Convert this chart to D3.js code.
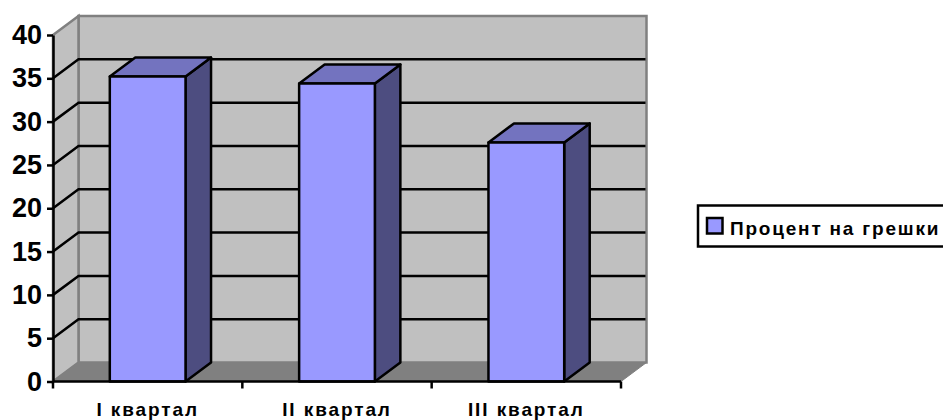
<!DOCTYPE html>
<html>
<head>
<meta charset="utf-8">
<script src="https://cdn.jsdelivr.net/npm/d3@7"></script>
<style>
    body { margin: 0; background: #fff; overflow: hidden; }
    text { font-family: "Liberation Sans", Arial, sans-serif; font-weight: bold; fill: #000; }
</style>
</head>
<body>
<svg id="chart" width="943" height="420"></svg>
<script>
const categories = ['I квартал', 'II квартал', 'III квартал'];
const errorRates = [35.2, 34.4, 27.6];
const yTickValues = [0, 5, 10, 15, 20, 25, 30, 35, 40];
const seriesName = 'Процент на грешки';

const svg = d3.select('#chart');

// front plane of the fake 3d box, back wall is shifted by depth
const dx = 25.5;
const dy = -19;
const x = d3.scaleBand().domain(categories).range([53, 621]).paddingInner(0.6).paddingOuter(0.3);
const y = d3.scaleLinear().domain([0, 40]).range([381.5, 35]);

const x0 = x.range()[0];
const x1 = x.range()[1];
const poly = (pts) => pts.map((p) => p.join(',')).join(' ');

// walls and floor
svg.append('polygon')
    .attr('points', poly([[x0 + dx, y(40) + dy], [x1 + dx, y(40) + dy], [x1 + dx, y(0) + dy], [x0 + dx, y(0) + dy]]))
    .attr('fill', '#c0c0c0').attr('stroke', '#808080').attr('stroke-width', 2.5);
svg.append('polygon')
    .attr('points', poly([[x0, y(40)], [x0 + dx, y(40) + dy], [x0 + dx, y(0) + dy], [x0, y(0)]]))
    .attr('fill', '#c0c0c0').attr('stroke', '#808080').attr('stroke-width', 2.5);
svg.append('polygon')
    .attr('points', poly([[x0, y(0)], [x0 + dx, y(0) + dy], [x1 + dx, y(0) + dy], [x1, y(0)]]))
    .attr('fill', '#808080').attr('stroke', '#808080').attr('stroke-width', 1);

// gridlines run along the left wall and then across the back
svg.append('g').selectAll('polyline')
    .data(yTickValues.filter((d) => d > 0 && d < 40))
    .join('polyline')
    .attr('points', (d) => poly([[x0, y(d)], [x0 + dx, y(d) + dy], [x1 + dx - 1, y(d) + dy]]))
    .attr('fill', 'none').attr('stroke', '#000').attr('stroke-width', 2.5);

// bars
const bars = svg.append('g').selectAll('g')
    .data(categories.map((c, i) => ({ c, v: errorRates[i] })))
    .join('g')
    .attr('stroke', '#000').attr('stroke-width', 2.5).attr('stroke-linejoin', 'round');
bars.append('polygon')
    .attr('points', (d) => {
        const l = x(d.c) + x.bandwidth();
        return poly([[l, y(d.v)], [l + dx, y(d.v) + dy], [l + dx, y(0) + dy], [l, y(0)]]);
    })
    .attr('fill', '#4d4d80');
bars.append('polygon')
    .attr('points', (d) => {
        const l = x(d.c);
        const r = l + x.bandwidth();
        return poly([[l, y(d.v)], [l + dx, y(d.v) + dy], [r + dx, y(d.v) + dy], [r, y(d.v)]]);
    })
    .attr('fill', '#7373bf');
bars.append('rect')
    .attr('x', (d) => x(d.c))
    .attr('y', (d) => y(d.v))
    .attr('width', x.bandwidth())
    .attr('height', (d) => y(0) - y(d.v))
    .attr('fill', '#9999ff');

// y axis
const yAxis = svg.append('g')
    .attr('transform', `translate(${x0},0)`)
    .call(d3.axisLeft(y).tickValues(yTickValues).tickSize(6).tickPadding(5).tickSizeOuter(0));
yAxis.selectAll('line').attr('stroke', '#000').attr('stroke-width', 2.5);
yAxis.select('.domain').attr('stroke', '#000').attr('stroke-width', 2.5);
yAxis.selectAll('text').attr('font-size', 27).attr('font-family', null);

// x axis, labels sit between the ticks
const xAxis = svg.append('g')
    .attr('transform', `translate(0,${y(0)})`)
    .call(d3.axisBottom(x).tickSize(0).tickPadding(21));
xAxis.select('.domain').attr('d', `M${x0},0H${x1}`).attr('stroke', '#000').attr('stroke-width', 2.5);
xAxis.selectAll('text').attr('font-size', 19).attr('letter-spacing', 1.9).attr('font-family', null);
const step = (x1 - x0) / categories.length;
xAxis.selectAll('.boundary')
    .data(d3.range(categories.length + 1))
    .join('line')
    .attr('class', 'boundary')
    .attr('x1', (i) => x0 + i * step).attr('x2', (i) => x0 + i * step)
    .attr('y1', 0).attr('y2', 7)
    .attr('stroke', '#000').attr('stroke-width', 2.5);

// legend runs off the right edge of the picture
const legend = svg.append('g');
legend.append('rect')
    .attr('x', 698).attr('y', 205.5).attr('width', 260).attr('height', 41)
    .attr('fill', '#fff').attr('stroke', '#000').attr('stroke-width', 2.5);
legend.append('rect')
    .attr('x', 707).attr('y', 218).attr('width', 15.5).attr('height', 15.5)
    .attr('fill', '#9999ff').attr('stroke', '#000').attr('stroke-width', 2.5);
legend.append('text')
    .attr('x', 730).attr('y', 235)
    .attr('font-size', 19).attr('letter-spacing', 1.8)
    .text(seriesName);
</script>
</body>
</html>
